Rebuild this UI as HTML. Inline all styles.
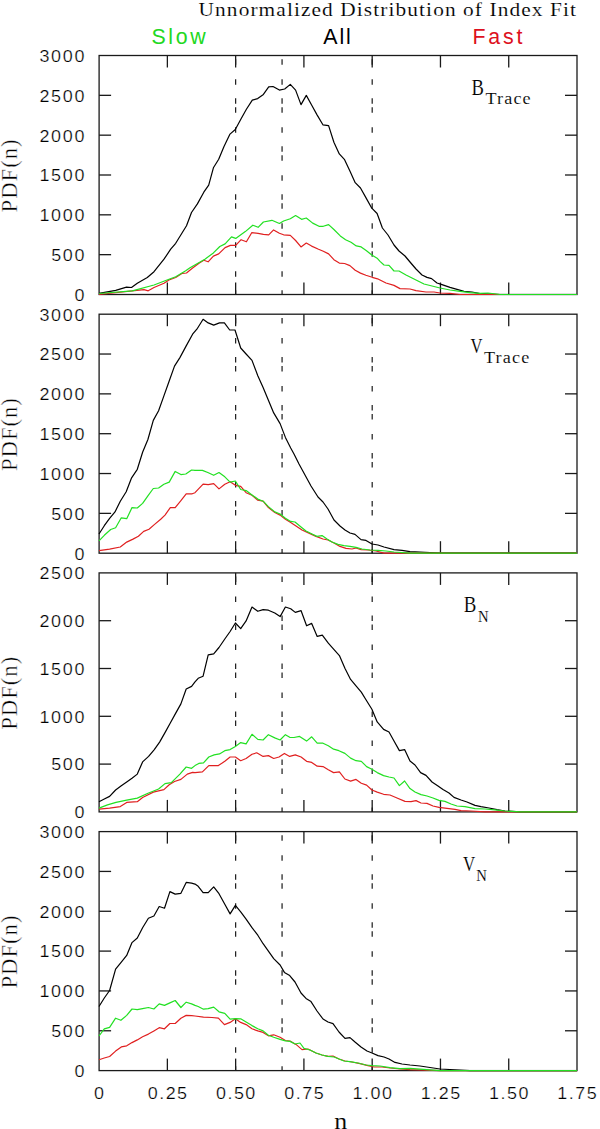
<!DOCTYPE html>
<html><head><meta charset="utf-8"><style>
html,body{margin:0;padding:0;background:#fff;width:600px;height:1129px;overflow:hidden}
svg{display:block}
.num{font-family:"Liberation Sans",sans-serif;font-size:16.3px;fill:#000;stroke:#fff;stroke-width:0.25px}
.ser{font-family:"Liberation Serif",serif;fill:#000;stroke:#fff;stroke-width:0.12px}
.san{font-family:"Liberation Sans",sans-serif}
</style></head><body>
<svg width="600" height="1129" viewBox="0 0 600 1129">
<line x1="235.64" y1="55.50" x2="235.64" y2="294.50" stroke="#1a1a1a" stroke-width="1.2" stroke-dasharray="5.5 3.5 5.5 14.5 5.5 13.5" stroke-dashoffset="5.3"/>
<line x1="282.07" y1="55.50" x2="282.07" y2="294.50" stroke="#1a1a1a" stroke-width="1.2" stroke-dasharray="5.5 3.5 5.5 14.5 5.5 13.5" stroke-dashoffset="5.3"/>
<line x1="372.19" y1="55.50" x2="372.19" y2="294.50" stroke="#1a1a1a" stroke-width="1.2" stroke-dasharray="5.5 3.5 5.5 14.5 5.5 13.5" stroke-dashoffset="5.3"/>
<rect x="99.1" y="55.5" width="477.90" height="239.00" fill="none" stroke="#1a1a1a" stroke-width="1.3"/>
<line x1="167.37" y1="55.5" x2="167.37" y2="67.5" stroke="#1a1a1a" stroke-width="1.3"/>
<line x1="167.37" y1="294.5" x2="167.37" y2="282.5" stroke="#1a1a1a" stroke-width="1.3"/>
<line x1="235.64" y1="55.5" x2="235.64" y2="67.5" stroke="#1a1a1a" stroke-width="1.3"/>
<line x1="235.64" y1="294.5" x2="235.64" y2="282.5" stroke="#1a1a1a" stroke-width="1.3"/>
<line x1="303.91" y1="55.5" x2="303.91" y2="67.5" stroke="#1a1a1a" stroke-width="1.3"/>
<line x1="303.91" y1="294.5" x2="303.91" y2="282.5" stroke="#1a1a1a" stroke-width="1.3"/>
<line x1="372.19" y1="55.5" x2="372.19" y2="67.5" stroke="#1a1a1a" stroke-width="1.3"/>
<line x1="372.19" y1="294.5" x2="372.19" y2="282.5" stroke="#1a1a1a" stroke-width="1.3"/>
<line x1="440.46" y1="55.5" x2="440.46" y2="67.5" stroke="#1a1a1a" stroke-width="1.3"/>
<line x1="440.46" y1="294.5" x2="440.46" y2="282.5" stroke="#1a1a1a" stroke-width="1.3"/>
<line x1="508.73" y1="55.5" x2="508.73" y2="67.5" stroke="#1a1a1a" stroke-width="1.3"/>
<line x1="508.73" y1="294.5" x2="508.73" y2="282.5" stroke="#1a1a1a" stroke-width="1.3"/>
<text class="num" x="76.77" y="300.85" text-anchor="end" textLength="9.00" lengthAdjust="spacing" transform="scale(1.1,1)">0</text>
<line x1="99.1" y1="254.67" x2="111.1" y2="254.67" stroke="#1a1a1a" stroke-width="1.3"/>
<line x1="577.0" y1="254.67" x2="565.0" y2="254.67" stroke="#1a1a1a" stroke-width="1.3"/>
<text class="num" x="76.77" y="261.02" text-anchor="end" textLength="30.27" lengthAdjust="spacing" transform="scale(1.1,1)">500</text>
<line x1="99.1" y1="214.83" x2="111.1" y2="214.83" stroke="#1a1a1a" stroke-width="1.3"/>
<line x1="577.0" y1="214.83" x2="565.0" y2="214.83" stroke="#1a1a1a" stroke-width="1.3"/>
<text class="num" x="76.77" y="221.18" text-anchor="end" textLength="40.91" lengthAdjust="spacing" transform="scale(1.1,1)">1000</text>
<line x1="99.1" y1="175.00" x2="111.1" y2="175.00" stroke="#1a1a1a" stroke-width="1.3"/>
<line x1="577.0" y1="175.00" x2="565.0" y2="175.00" stroke="#1a1a1a" stroke-width="1.3"/>
<text class="num" x="76.77" y="181.35" text-anchor="end" textLength="40.91" lengthAdjust="spacing" transform="scale(1.1,1)">1500</text>
<line x1="99.1" y1="135.17" x2="111.1" y2="135.17" stroke="#1a1a1a" stroke-width="1.3"/>
<line x1="577.0" y1="135.17" x2="565.0" y2="135.17" stroke="#1a1a1a" stroke-width="1.3"/>
<text class="num" x="76.77" y="141.52" text-anchor="end" textLength="40.91" lengthAdjust="spacing" transform="scale(1.1,1)">2000</text>
<line x1="99.1" y1="95.33" x2="111.1" y2="95.33" stroke="#1a1a1a" stroke-width="1.3"/>
<line x1="577.0" y1="95.33" x2="565.0" y2="95.33" stroke="#1a1a1a" stroke-width="1.3"/>
<text class="num" x="76.77" y="101.68" text-anchor="end" textLength="40.91" lengthAdjust="spacing" transform="scale(1.1,1)">2500</text>
<text class="num" x="76.77" y="61.85" text-anchor="end" textLength="40.91" lengthAdjust="spacing" transform="scale(1.1,1)">3000</text>
<polyline points="99.0,293.3 115.7,290.3 126.5,287.2 131.5,287.5 137.3,283.3 147.3,277.5 154.0,271.7 164.0,259.2 170.7,249.2 175.7,243.3 186.5,225.8 191.5,212.5 197.4,203.9 203.8,192.2 208.7,185.2 213.4,167.8 218.7,159.3 224.0,146.5 230.0,134.1 235.3,129.5 241.1,118.8 246.4,109.3 252.3,100.1 257.7,98.6 263.4,94.4 268.7,86.9 273.0,86.5 279.4,90.1 284.7,89.0 290.3,84.4 295.6,90.1 301.0,104.6 306.3,95.4 311.6,105.0 316.9,114.6 322.9,124.8 328.6,125.6 333.9,142.2 339.3,153.9 344.6,159.7 349.9,171.0 355.2,182.7 360.5,188.0 365.9,197.6 371.8,208.2 377.1,213.5 382.4,228.0 388.0,235.0 394.0,245.0 399.0,251.0 405.0,256.0 410.0,262.0 416.0,269.0 422.0,275.0 427.0,277.4 431.6,278.6 437.0,283.0 442.0,284.6 450.0,287.4 457.0,289.4 464.0,291.4 472.0,292.0 480.0,293.6 500.0,294.5 577.0,294.5" fill="none" stroke="#000000" stroke-width="1.2" stroke-linejoin="round"/>
<polyline points="99.0,294.5 144.0,289.7 148.2,290.8 154.0,287.5 164.0,283.3 169.0,280.0 175.7,277.5 182.3,273.3 186.5,273.0 192.3,268.3 199.0,263.3 203.8,260.3 208.1,261.8 213.4,256.1 218.7,253.9 225.1,247.6 230.4,245.4 235.7,245.4 241.1,239.7 246.4,241.8 251.7,232.7 258.1,233.3 263.4,234.4 268.7,234.8 273.6,229.9 279.4,233.3 283.6,234.8 290.3,235.4 295.6,240.5 301.0,246.9 306.3,243.1 311.6,246.1 318.0,249.0 323.3,251.2 328.6,253.9 333.9,259.7 339.3,263.1 344.6,263.5 349.9,265.6 355.2,270.3 360.5,273.1 365.9,275.2 372.2,277.3 377.6,278.8 380.0,280.0 386.0,283.0 394.0,285.4 400.0,288.6 410.0,289.0 416.0,290.6 426.0,292.0 434.0,292.0 440.0,293.0 450.0,293.4 460.0,294.5 480.0,294.5 577.0,294.5" fill="none" stroke="#e02020" stroke-width="1.2" stroke-linejoin="round"/>
<polyline points="99.0,293.5 132.3,290.8 154.0,285.0 169.0,279.2 175.7,276.7 185.7,270.8 190.0,267.8 204.9,259.3 213.4,252.9 219.8,246.5 225.1,243.9 231.5,236.9 235.7,238.4 245.3,231.6 252.8,225.2 258.1,227.3 263.4,222.0 271.9,220.3 279.4,223.5 283.6,221.0 290.3,218.8 295.6,215.6 301.6,219.3 306.3,218.0 312.7,223.1 319.0,226.3 323.3,226.3 328.6,224.6 333.9,229.5 340.3,235.9 345.6,239.7 351.0,242.2 356.3,245.9 361.2,246.9 366.5,250.7 371.8,255.0 377.1,258.2 380.0,261.4 384.0,265.0 389.0,265.4 394.0,271.0 399.0,271.0 406.0,275.0 412.0,278.0 418.0,281.0 424.0,284.0 432.0,286.0 440.0,288.0 450.0,290.0 460.0,291.4 470.0,292.6 480.0,293.4 488.0,293.0 500.0,294.5 577.0,294.5" fill="none" stroke="#22e022" stroke-width="1.2" stroke-linejoin="round"/>
<text class="ser" style="stroke-width:0.4px" font-size="22.7" transform="translate(17.3,175.9) rotate(-90)" text-anchor="middle" textLength="73" lengthAdjust="spacing">PDF(n)</text>
<line x1="235.64" y1="314.20" x2="235.64" y2="553.20" stroke="#1a1a1a" stroke-width="1.2" stroke-dasharray="5.5 3.5 5.5 14.5 5.5 13.5" stroke-dashoffset="5.3"/>
<line x1="282.07" y1="314.20" x2="282.07" y2="553.20" stroke="#1a1a1a" stroke-width="1.2" stroke-dasharray="5.5 3.5 5.5 14.5 5.5 13.5" stroke-dashoffset="5.3"/>
<line x1="372.19" y1="314.20" x2="372.19" y2="553.20" stroke="#1a1a1a" stroke-width="1.2" stroke-dasharray="5.5 3.5 5.5 14.5 5.5 13.5" stroke-dashoffset="5.3"/>
<rect x="99.1" y="314.2" width="477.90" height="239.00" fill="none" stroke="#1a1a1a" stroke-width="1.3"/>
<line x1="167.37" y1="314.2" x2="167.37" y2="326.2" stroke="#1a1a1a" stroke-width="1.3"/>
<line x1="167.37" y1="553.2" x2="167.37" y2="541.2" stroke="#1a1a1a" stroke-width="1.3"/>
<line x1="235.64" y1="314.2" x2="235.64" y2="326.2" stroke="#1a1a1a" stroke-width="1.3"/>
<line x1="235.64" y1="553.2" x2="235.64" y2="541.2" stroke="#1a1a1a" stroke-width="1.3"/>
<line x1="303.91" y1="314.2" x2="303.91" y2="326.2" stroke="#1a1a1a" stroke-width="1.3"/>
<line x1="303.91" y1="553.2" x2="303.91" y2="541.2" stroke="#1a1a1a" stroke-width="1.3"/>
<line x1="372.19" y1="314.2" x2="372.19" y2="326.2" stroke="#1a1a1a" stroke-width="1.3"/>
<line x1="372.19" y1="553.2" x2="372.19" y2="541.2" stroke="#1a1a1a" stroke-width="1.3"/>
<line x1="440.46" y1="314.2" x2="440.46" y2="326.2" stroke="#1a1a1a" stroke-width="1.3"/>
<line x1="440.46" y1="553.2" x2="440.46" y2="541.2" stroke="#1a1a1a" stroke-width="1.3"/>
<line x1="508.73" y1="314.2" x2="508.73" y2="326.2" stroke="#1a1a1a" stroke-width="1.3"/>
<line x1="508.73" y1="553.2" x2="508.73" y2="541.2" stroke="#1a1a1a" stroke-width="1.3"/>
<text class="num" x="76.77" y="559.55" text-anchor="end" textLength="9.00" lengthAdjust="spacing" transform="scale(1.1,1)">0</text>
<line x1="99.1" y1="513.37" x2="111.1" y2="513.37" stroke="#1a1a1a" stroke-width="1.3"/>
<line x1="577.0" y1="513.37" x2="565.0" y2="513.37" stroke="#1a1a1a" stroke-width="1.3"/>
<text class="num" x="76.77" y="519.72" text-anchor="end" textLength="30.27" lengthAdjust="spacing" transform="scale(1.1,1)">500</text>
<line x1="99.1" y1="473.53" x2="111.1" y2="473.53" stroke="#1a1a1a" stroke-width="1.3"/>
<line x1="577.0" y1="473.53" x2="565.0" y2="473.53" stroke="#1a1a1a" stroke-width="1.3"/>
<text class="num" x="76.77" y="479.88" text-anchor="end" textLength="40.91" lengthAdjust="spacing" transform="scale(1.1,1)">1000</text>
<line x1="99.1" y1="433.70" x2="111.1" y2="433.70" stroke="#1a1a1a" stroke-width="1.3"/>
<line x1="577.0" y1="433.70" x2="565.0" y2="433.70" stroke="#1a1a1a" stroke-width="1.3"/>
<text class="num" x="76.77" y="440.05" text-anchor="end" textLength="40.91" lengthAdjust="spacing" transform="scale(1.1,1)">1500</text>
<line x1="99.1" y1="393.87" x2="111.1" y2="393.87" stroke="#1a1a1a" stroke-width="1.3"/>
<line x1="577.0" y1="393.87" x2="565.0" y2="393.87" stroke="#1a1a1a" stroke-width="1.3"/>
<text class="num" x="76.77" y="400.22" text-anchor="end" textLength="40.91" lengthAdjust="spacing" transform="scale(1.1,1)">2000</text>
<line x1="99.1" y1="354.03" x2="111.1" y2="354.03" stroke="#1a1a1a" stroke-width="1.3"/>
<line x1="577.0" y1="354.03" x2="565.0" y2="354.03" stroke="#1a1a1a" stroke-width="1.3"/>
<text class="num" x="76.77" y="360.38" text-anchor="end" textLength="40.91" lengthAdjust="spacing" transform="scale(1.1,1)">2500</text>
<text class="num" x="76.77" y="320.55" text-anchor="end" textLength="40.91" lengthAdjust="spacing" transform="scale(1.1,1)">3000</text>
<polyline points="99.0,534.0 104.3,525.7 109.6,518.3 115.0,511.9 120.3,501.2 126.2,491.7 131.6,477.8 137.3,469.3 142.6,452.3 147.9,439.5 153.3,420.4 158.6,410.8 163.9,395.9 169.2,381.0 174.5,366.1 179.9,357.6 186.2,345.9 192.6,334.2 197.5,328.3 203.1,319.3 208.2,322.9 213.7,325.1 219.5,322.9 224.4,322.9 229.7,330.0 235.0,330.0 240.7,348.0 246.1,354.0 252.0,360.4 257.8,375.7 263.1,387.4 268.4,400.2 273.7,412.9 280.1,423.6 285.4,437.4 290.7,448.0 294.0,454.0 299.0,464.0 305.0,475.0 311.0,486.0 318.0,497.0 323.0,502.0 328.0,509.0 334.0,520.0 340.0,526.0 345.0,530.0 350.0,533.0 355.0,534.4 361.0,539.6 366.0,540.4 372.0,544.0 378.0,545.0 384.0,547.0 394.0,549.6 402.0,550.4 410.0,551.6 420.0,552.0 440.0,553.2 577.0,553.2" fill="none" stroke="#000000" stroke-width="1.2" stroke-linejoin="round"/>
<polyline points="99.0,550.6 109.6,549.1 120.3,547.0 126.7,542.1 133.0,539.1 138.4,536.3 143.7,531.4 149.0,529.3 154.3,524.6 160.7,519.3 165.0,515.1 170.3,507.6 175.2,507.6 180.5,501.2 186.2,493.8 192.2,493.8 195.0,492.7 203.1,484.2 208.2,484.6 213.7,483.6 219.0,488.9 224.8,484.2 230.1,481.7 235.4,485.3 240.7,486.3 246.1,492.7 252.0,495.3 257.8,500.2 263.1,501.2 268.4,507.6 274.8,512.5 280.1,515.1 285.4,519.3 290.7,522.5 296.0,526.0 302.0,530.0 310.0,533.6 316.0,536.4 323.0,539.0 328.0,540.0 334.0,543.0 340.0,546.4 346.0,548.4 352.0,549.0 356.0,548.0 361.0,549.6 368.0,550.0 376.0,551.0 384.0,553.2 394.0,553.2 410.0,553.2 577.0,553.2" fill="none" stroke="#e02020" stroke-width="1.2" stroke-linejoin="round"/>
<polyline points="99.0,540.8 104.3,535.3 110.7,529.5 115.6,527.8 121.3,517.8 126.7,518.7 132.0,507.6 137.3,508.0 142.6,503.4 147.9,495.9 153.3,488.5 158.6,488.0 163.9,484.2 169.2,482.1 175.2,471.4 180.9,474.6 185.8,474.0 191.6,470.0 195.0,470.4 202.4,470.4 207.8,472.5 213.7,475.3 219.0,472.5 224.8,476.8 230.1,482.1 235.4,481.0 240.7,489.5 246.1,490.6 252.0,494.9 257.8,499.1 263.1,501.2 268.4,506.6 274.8,511.9 280.1,514.0 285.4,518.3 290.7,521.4 295.0,522.0 301.0,527.0 306.0,531.0 312.0,534.0 317.0,536.4 322.0,535.6 327.0,539.0 332.0,542.0 338.0,544.4 344.0,545.6 350.0,546.4 356.0,547.4 362.0,549.0 370.0,550.0 378.0,550.4 386.0,551.0 394.0,552.0 410.0,553.2 440.0,553.2 577.0,553.2" fill="none" stroke="#22e022" stroke-width="1.2" stroke-linejoin="round"/>
<text class="ser" style="stroke-width:0.4px" font-size="22.7" transform="translate(17.3,434.6) rotate(-90)" text-anchor="middle" textLength="73" lengthAdjust="spacing">PDF(n)</text>
<line x1="235.64" y1="572.90" x2="235.64" y2="811.90" stroke="#1a1a1a" stroke-width="1.2" stroke-dasharray="5.5 3.5 5.5 14.5 5.5 13.5" stroke-dashoffset="5.3"/>
<line x1="282.07" y1="572.90" x2="282.07" y2="811.90" stroke="#1a1a1a" stroke-width="1.2" stroke-dasharray="5.5 3.5 5.5 14.5 5.5 13.5" stroke-dashoffset="5.3"/>
<line x1="372.19" y1="572.90" x2="372.19" y2="811.90" stroke="#1a1a1a" stroke-width="1.2" stroke-dasharray="5.5 3.5 5.5 14.5 5.5 13.5" stroke-dashoffset="5.3"/>
<rect x="99.1" y="572.9" width="477.90" height="239.00" fill="none" stroke="#1a1a1a" stroke-width="1.3"/>
<line x1="167.37" y1="572.9" x2="167.37" y2="584.9" stroke="#1a1a1a" stroke-width="1.3"/>
<line x1="167.37" y1="811.9" x2="167.37" y2="799.9" stroke="#1a1a1a" stroke-width="1.3"/>
<line x1="235.64" y1="572.9" x2="235.64" y2="584.9" stroke="#1a1a1a" stroke-width="1.3"/>
<line x1="235.64" y1="811.9" x2="235.64" y2="799.9" stroke="#1a1a1a" stroke-width="1.3"/>
<line x1="303.91" y1="572.9" x2="303.91" y2="584.9" stroke="#1a1a1a" stroke-width="1.3"/>
<line x1="303.91" y1="811.9" x2="303.91" y2="799.9" stroke="#1a1a1a" stroke-width="1.3"/>
<line x1="372.19" y1="572.9" x2="372.19" y2="584.9" stroke="#1a1a1a" stroke-width="1.3"/>
<line x1="372.19" y1="811.9" x2="372.19" y2="799.9" stroke="#1a1a1a" stroke-width="1.3"/>
<line x1="440.46" y1="572.9" x2="440.46" y2="584.9" stroke="#1a1a1a" stroke-width="1.3"/>
<line x1="440.46" y1="811.9" x2="440.46" y2="799.9" stroke="#1a1a1a" stroke-width="1.3"/>
<line x1="508.73" y1="572.9" x2="508.73" y2="584.9" stroke="#1a1a1a" stroke-width="1.3"/>
<line x1="508.73" y1="811.9" x2="508.73" y2="799.9" stroke="#1a1a1a" stroke-width="1.3"/>
<text class="num" x="76.77" y="818.25" text-anchor="end" textLength="9.00" lengthAdjust="spacing" transform="scale(1.1,1)">0</text>
<line x1="99.1" y1="764.10" x2="111.1" y2="764.10" stroke="#1a1a1a" stroke-width="1.3"/>
<line x1="577.0" y1="764.10" x2="565.0" y2="764.10" stroke="#1a1a1a" stroke-width="1.3"/>
<text class="num" x="76.77" y="770.45" text-anchor="end" textLength="30.27" lengthAdjust="spacing" transform="scale(1.1,1)">500</text>
<line x1="99.1" y1="716.30" x2="111.1" y2="716.30" stroke="#1a1a1a" stroke-width="1.3"/>
<line x1="577.0" y1="716.30" x2="565.0" y2="716.30" stroke="#1a1a1a" stroke-width="1.3"/>
<text class="num" x="76.77" y="722.65" text-anchor="end" textLength="40.91" lengthAdjust="spacing" transform="scale(1.1,1)">1000</text>
<line x1="99.1" y1="668.50" x2="111.1" y2="668.50" stroke="#1a1a1a" stroke-width="1.3"/>
<line x1="577.0" y1="668.50" x2="565.0" y2="668.50" stroke="#1a1a1a" stroke-width="1.3"/>
<text class="num" x="76.77" y="674.85" text-anchor="end" textLength="40.91" lengthAdjust="spacing" transform="scale(1.1,1)">1500</text>
<line x1="99.1" y1="620.70" x2="111.1" y2="620.70" stroke="#1a1a1a" stroke-width="1.3"/>
<line x1="577.0" y1="620.70" x2="565.0" y2="620.70" stroke="#1a1a1a" stroke-width="1.3"/>
<text class="num" x="76.77" y="627.05" text-anchor="end" textLength="40.91" lengthAdjust="spacing" transform="scale(1.1,1)">2000</text>
<text class="num" x="76.77" y="579.25" text-anchor="end" textLength="40.91" lengthAdjust="spacing" transform="scale(1.1,1)">2500</text>
<polyline points="99.0,801.7 104.3,799.0 109.6,796.4 115.6,790.0 121.3,785.8 126.7,782.1 132.0,778.3 137.3,774.1 142.6,761.9 148.6,756.4 154.3,749.6 159.6,742.1 165.0,732.6 170.3,723.0 175.6,713.4 180.9,703.9 186.2,689.0 191.6,686.4 195.0,681.9 198.2,678.3 203.1,676.2 208.2,654.9 213.7,653.9 219.0,647.5 224.8,639.0 230.1,631.5 235.4,623.0 240.7,628.7 246.1,620.9 252.0,607.0 257.8,611.3 263.1,609.6 268.4,610.2 274.8,613.0 280.1,616.6 285.4,607.0 290.7,608.7 295.3,612.4 301.1,610.7 306.6,625.8 311.7,623.4 317.2,636.4 322.3,635.1 328.3,643.2 333.6,649.2 339.4,655.6 344.9,668.3 350.6,679.4 356.0,685.8 361.3,692.1 366.6,700.7 371.9,709.2 377.2,721.9 383.6,729.4 389.0,732.0 394.0,741.0 399.4,750.6 404.6,749.6 410.0,761.0 415.0,765.0 420.6,772.6 426.0,775.4 432.0,782.0 438.0,786.0 443.0,789.6 449.0,793.0 454.0,797.4 461.0,800.0 467.0,802.0 475.0,805.4 481.0,806.6 489.0,808.0 497.0,809.6 505.0,811.0 520.0,811.9 577.0,811.9" fill="none" stroke="#000000" stroke-width="1.2" stroke-linejoin="round"/>
<polyline points="99.0,809.2 109.6,808.1 120.3,806.6 126.7,802.4 137.3,801.7 142.6,797.5 153.3,792.1 163.9,789.6 169.2,784.7 174.5,781.5 180.9,779.4 187.3,774.1 192.6,772.4 195.0,772.6 202.4,771.9 208.8,765.6 218.4,765.6 224.8,761.3 230.1,757.0 235.4,757.0 240.7,760.7 246.1,758.5 252.0,754.3 256.7,752.8 263.1,756.4 268.4,755.6 273.7,758.5 279.0,757.0 284.4,753.4 289.7,756.4 295.3,754.9 301.1,757.0 306.6,761.3 311.7,762.4 317.2,766.2 323.0,766.6 328.3,769.8 333.6,772.6 339.4,771.9 344.9,779.0 350.6,781.1 356.0,779.4 361.3,783.2 366.6,785.1 371.9,790.0 377.2,792.1 383.6,794.3 390.0,795.0 397.0,798.0 405.0,801.4 411.0,801.6 416.0,800.6 421.0,803.0 427.0,803.4 433.0,806.0 439.0,807.4 445.0,808.2 455.0,809.4 461.0,810.6 471.0,811.0 485.0,811.9 505.0,811.9 577.0,811.9" fill="none" stroke="#e02020" stroke-width="1.2" stroke-linejoin="round"/>
<polyline points="99.0,808.1 107.5,804.9 116.0,802.4 126.7,800.2 137.3,798.1 148.0,793.2 158.6,789.0 165.0,783.6 171.3,782.6 179.9,774.1 186.2,767.0 191.6,768.3 195.0,765.6 198.8,763.4 203.5,762.8 208.8,757.0 214.1,754.9 219.5,753.9 224.8,750.7 230.1,749.6 235.4,746.4 240.7,742.6 246.1,743.9 252.0,734.3 257.8,739.4 263.1,740.0 268.4,734.7 274.8,737.9 280.1,740.0 285.4,734.7 289.7,737.3 294.0,737.5 299.6,736.4 306.6,741.1 311.7,736.8 317.2,743.2 323.0,743.2 328.3,745.8 333.6,749.2 338.9,750.7 344.9,753.4 350.6,758.1 356.0,760.7 361.3,761.3 366.6,766.6 371.9,769.2 377.2,772.6 383.6,775.6 389.0,777.0 394.0,778.0 399.4,785.6 404.6,781.0 410.0,788.6 415.0,792.0 421.0,794.6 427.0,796.0 433.0,798.0 439.0,800.4 445.0,801.4 451.0,804.0 457.0,806.0 465.0,806.6 475.0,808.6 485.0,809.0 495.0,809.8 505.0,811.0 520.0,811.9 577.0,811.9" fill="none" stroke="#22e022" stroke-width="1.2" stroke-linejoin="round"/>
<text class="ser" style="stroke-width:0.4px" font-size="22.7" transform="translate(17.3,693.3) rotate(-90)" text-anchor="middle" textLength="73" lengthAdjust="spacing">PDF(n)</text>
<line x1="235.64" y1="831.60" x2="235.64" y2="1070.60" stroke="#1a1a1a" stroke-width="1.2" stroke-dasharray="5.5 3.5 5.5 14.5 5.5 13.5" stroke-dashoffset="5.3"/>
<line x1="282.07" y1="831.60" x2="282.07" y2="1070.60" stroke="#1a1a1a" stroke-width="1.2" stroke-dasharray="5.5 3.5 5.5 14.5 5.5 13.5" stroke-dashoffset="5.3"/>
<line x1="372.19" y1="831.60" x2="372.19" y2="1070.60" stroke="#1a1a1a" stroke-width="1.2" stroke-dasharray="5.5 3.5 5.5 14.5 5.5 13.5" stroke-dashoffset="5.3"/>
<rect x="99.1" y="831.5999999999999" width="477.90" height="239.00" fill="none" stroke="#1a1a1a" stroke-width="1.3"/>
<line x1="167.37" y1="831.5999999999999" x2="167.37" y2="843.5999999999999" stroke="#1a1a1a" stroke-width="1.3"/>
<line x1="167.37" y1="1070.6" x2="167.37" y2="1058.6" stroke="#1a1a1a" stroke-width="1.3"/>
<line x1="235.64" y1="831.5999999999999" x2="235.64" y2="843.5999999999999" stroke="#1a1a1a" stroke-width="1.3"/>
<line x1="235.64" y1="1070.6" x2="235.64" y2="1058.6" stroke="#1a1a1a" stroke-width="1.3"/>
<line x1="303.91" y1="831.5999999999999" x2="303.91" y2="843.5999999999999" stroke="#1a1a1a" stroke-width="1.3"/>
<line x1="303.91" y1="1070.6" x2="303.91" y2="1058.6" stroke="#1a1a1a" stroke-width="1.3"/>
<line x1="372.19" y1="831.5999999999999" x2="372.19" y2="843.5999999999999" stroke="#1a1a1a" stroke-width="1.3"/>
<line x1="372.19" y1="1070.6" x2="372.19" y2="1058.6" stroke="#1a1a1a" stroke-width="1.3"/>
<line x1="440.46" y1="831.5999999999999" x2="440.46" y2="843.5999999999999" stroke="#1a1a1a" stroke-width="1.3"/>
<line x1="440.46" y1="1070.6" x2="440.46" y2="1058.6" stroke="#1a1a1a" stroke-width="1.3"/>
<line x1="508.73" y1="831.5999999999999" x2="508.73" y2="843.5999999999999" stroke="#1a1a1a" stroke-width="1.3"/>
<line x1="508.73" y1="1070.6" x2="508.73" y2="1058.6" stroke="#1a1a1a" stroke-width="1.3"/>
<text class="num" x="76.77" y="1076.95" text-anchor="end" textLength="9.00" lengthAdjust="spacing" transform="scale(1.1,1)">0</text>
<line x1="99.1" y1="1030.77" x2="111.1" y2="1030.77" stroke="#1a1a1a" stroke-width="1.3"/>
<line x1="577.0" y1="1030.77" x2="565.0" y2="1030.77" stroke="#1a1a1a" stroke-width="1.3"/>
<text class="num" x="76.77" y="1037.12" text-anchor="end" textLength="30.27" lengthAdjust="spacing" transform="scale(1.1,1)">500</text>
<line x1="99.1" y1="990.93" x2="111.1" y2="990.93" stroke="#1a1a1a" stroke-width="1.3"/>
<line x1="577.0" y1="990.93" x2="565.0" y2="990.93" stroke="#1a1a1a" stroke-width="1.3"/>
<text class="num" x="76.77" y="997.28" text-anchor="end" textLength="40.91" lengthAdjust="spacing" transform="scale(1.1,1)">1000</text>
<line x1="99.1" y1="951.10" x2="111.1" y2="951.10" stroke="#1a1a1a" stroke-width="1.3"/>
<line x1="577.0" y1="951.10" x2="565.0" y2="951.10" stroke="#1a1a1a" stroke-width="1.3"/>
<text class="num" x="76.77" y="957.45" text-anchor="end" textLength="40.91" lengthAdjust="spacing" transform="scale(1.1,1)">1500</text>
<line x1="99.1" y1="911.27" x2="111.1" y2="911.27" stroke="#1a1a1a" stroke-width="1.3"/>
<line x1="577.0" y1="911.27" x2="565.0" y2="911.27" stroke="#1a1a1a" stroke-width="1.3"/>
<text class="num" x="76.77" y="917.62" text-anchor="end" textLength="40.91" lengthAdjust="spacing" transform="scale(1.1,1)">2000</text>
<line x1="99.1" y1="871.43" x2="111.1" y2="871.43" stroke="#1a1a1a" stroke-width="1.3"/>
<line x1="577.0" y1="871.43" x2="565.0" y2="871.43" stroke="#1a1a1a" stroke-width="1.3"/>
<text class="num" x="76.77" y="877.78" text-anchor="end" textLength="40.91" lengthAdjust="spacing" transform="scale(1.1,1)">2500</text>
<text class="num" x="76.77" y="837.95" text-anchor="end" textLength="40.91" lengthAdjust="spacing" transform="scale(1.1,1)">3000</text>
<polyline points="99.0,1006.5 104.3,998.0 109.6,990.5 115.6,969.2 121.3,962.2 126.7,955.4 132.0,942.6 137.3,938.0 142.6,927.7 148.4,918.2 153.9,916.0 159.2,906.5 164.5,908.2 169.9,891.6 175.2,894.1 180.9,893.3 186.2,882.4 191.6,883.1 195.0,884.1 198.2,886.3 203.1,892.6 208.2,892.6 213.7,886.9 219.0,893.7 224.8,904.3 230.1,913.9 235.4,905.4 240.7,911.8 246.1,919.2 252.0,927.7 257.8,935.2 263.1,943.7 268.4,951.1 273.7,958.6 280.1,965.0 284.4,972.4 289.7,975.6 295.0,982.0 301.0,993.0 306.0,998.4 311.0,1001.6 317.0,1011.0 323.0,1019.0 328.0,1022.0 333.0,1023.6 339.0,1032.0 345.0,1038.4 350.0,1037.6 355.0,1042.0 361.0,1047.0 367.0,1051.0 372.0,1053.0 378.0,1055.6 384.0,1057.0 389.0,1059.0 395.0,1062.4 402.0,1064.0 410.0,1065.0 420.0,1066.0 440.0,1069.0 470.0,1070.6 480.0,1070.6 577.0,1070.6" fill="none" stroke="#000000" stroke-width="1.2" stroke-linejoin="round"/>
<polyline points="99.0,1059.7 104.3,1058.0 109.6,1056.5 115.6,1051.1 121.3,1046.9 126.7,1045.8 132.0,1042.6 137.3,1039.9 142.6,1036.7 148.4,1034.1 153.9,1030.9 159.2,1027.7 164.5,1028.8 169.9,1023.5 175.2,1023.5 180.9,1018.2 186.2,1015.4 191.6,1015.6 195.0,1016.0 203.5,1017.1 212.0,1017.5 218.4,1018.2 224.4,1024.6 230.1,1022.4 235.4,1018.8 240.7,1022.4 246.1,1024.6 252.0,1028.8 257.8,1030.9 263.1,1032.4 268.4,1035.8 273.7,1034.8 280.1,1037.3 285.4,1040.5 290.0,1041.0 296.0,1044.4 302.0,1049.6 308.0,1049.0 316.0,1053.0 322.0,1055.0 328.0,1056.4 333.0,1056.0 339.0,1059.0 345.0,1061.0 352.0,1062.0 360.0,1063.6 368.0,1065.6 374.0,1067.0 382.0,1067.0 390.0,1068.0 400.0,1069.0 410.0,1069.6 440.0,1070.6 577.0,1070.6" fill="none" stroke="#e02020" stroke-width="1.2" stroke-linejoin="round"/>
<polyline points="99.0,1036.0 104.3,1028.8 109.6,1027.3 115.6,1018.2 120.9,1020.3 126.7,1015.4 132.0,1009.0 137.3,1009.7 142.6,1008.6 148.4,1007.5 153.9,1009.0 159.2,1003.9 164.5,1005.4 169.9,1002.9 175.2,1000.5 180.9,1007.5 186.2,1002.2 191.6,1003.9 195.0,1005.4 198.2,1006.5 203.5,1009.2 208.2,1008.6 213.7,1007.1 219.0,1011.8 224.8,1013.3 230.1,1019.2 235.4,1018.6 240.7,1018.8 246.1,1022.0 252.0,1025.6 257.8,1028.8 263.1,1030.9 268.4,1035.2 273.7,1037.3 280.1,1039.4 285.4,1040.9 290.0,1041.4 295.0,1044.0 300.0,1043.0 304.0,1048.4 310.0,1050.0 316.0,1053.0 322.0,1055.0 328.0,1056.4 334.0,1057.0 339.0,1059.0 344.0,1061.0 350.0,1061.6 358.0,1063.0 366.0,1065.0 372.0,1065.6 380.0,1066.0 390.0,1067.6 400.0,1068.6 410.0,1068.4 440.0,1070.6 577.0,1070.6" fill="none" stroke="#22e022" stroke-width="1.2" stroke-linejoin="round"/>
<text class="ser" style="stroke-width:0.4px" font-size="22.7" transform="translate(17.3,952.0) rotate(-90)" text-anchor="middle" textLength="73" lengthAdjust="spacing">PDF(n)</text>
<text class="num" x="90.09" y="1098.7" text-anchor="middle" textLength="8.18" lengthAdjust="spacing" transform="scale(1.1,1)">0</text>
<text class="num" x="152.16" y="1098.7" text-anchor="middle" textLength="35.82" lengthAdjust="spacing" transform="scale(1.1,1)">0.25</text>
<text class="num" x="214.22" y="1098.7" text-anchor="middle" textLength="35.82" lengthAdjust="spacing" transform="scale(1.1,1)">0.50</text>
<text class="num" x="276.29" y="1098.7" text-anchor="middle" textLength="35.82" lengthAdjust="spacing" transform="scale(1.1,1)">0.75</text>
<text class="num" x="338.35" y="1098.7" text-anchor="middle" textLength="35.82" lengthAdjust="spacing" transform="scale(1.1,1)">1.00</text>
<text class="num" x="400.42" y="1098.7" text-anchor="middle" textLength="35.82" lengthAdjust="spacing" transform="scale(1.1,1)">1.25</text>
<text class="num" x="462.48" y="1098.7" text-anchor="middle" textLength="35.82" lengthAdjust="spacing" transform="scale(1.1,1)">1.50</text>
<text class="num" x="524.55" y="1098.7" text-anchor="middle" textLength="35.82" lengthAdjust="spacing" transform="scale(1.1,1)">1.75</text>
<text class="ser" font-size="22.4" x="471.60" y="94.9" textLength="12.40" lengthAdjust="spacingAndGlyphs" transform="scale(1.0,1)">B</text>
<text class="ser" font-size="16.8" x="449.63" y="104.0" textLength="41.67" lengthAdjust="spacing" transform="scale(1.08,1)">Trace</text>
<text class="ser" font-size="21.2" x="470.60" y="353.2" textLength="12.00" lengthAdjust="spacingAndGlyphs" transform="scale(1.0,1)">V</text>
<text class="ser" font-size="16.8" x="448.15" y="362.7" textLength="41.85" lengthAdjust="spacing" transform="scale(1.08,1)">Trace</text>
<text class="ser" font-size="22.4" x="463.70" y="612.3" textLength="12.60" lengthAdjust="spacingAndGlyphs" transform="scale(1.0,1)">B</text>
<text class="ser" font-size="16.8" x="477.90" y="621.6" textLength="10.60" lengthAdjust="spacingAndGlyphs" transform="scale(1.0,1)">N</text>
<text class="ser" font-size="21.2" x="462.90" y="870.9" textLength="12.20" lengthAdjust="spacingAndGlyphs" transform="scale(1.0,1)">V</text>
<text class="ser" font-size="16.8" x="476.30" y="880.5" textLength="10.60" lengthAdjust="spacingAndGlyphs" transform="scale(1.0,1)">N</text>
<text class="ser" font-size="18.9" x="175.75" y="16" textLength="333.98" lengthAdjust="spacing" transform="scale(1.13,1)">Unnormalized Distribution of Index Fit</text>
<text class="san" font-size="22.5" x="159.37" y="44" textLength="57.05" lengthAdjust="spacing" fill="#22d822" transform="scale(0.95,1)">Slow</text>
<text class="san" font-size="22.5" x="340.21" y="43.8" textLength="29.05" lengthAdjust="spacing" fill="#000" transform="scale(0.95,1)">All</text>
<text class="san" font-size="22.5" x="497.26" y="43.7" textLength="52.63" lengthAdjust="spacing" fill="#dd1020" transform="scale(0.95,1)">Fast</text>
<text class="ser" font-size="23.2" x="304.29" y="1129.4" text-anchor="middle" transform="scale(1.12,1)">n</text>
</svg>
</body></html>
